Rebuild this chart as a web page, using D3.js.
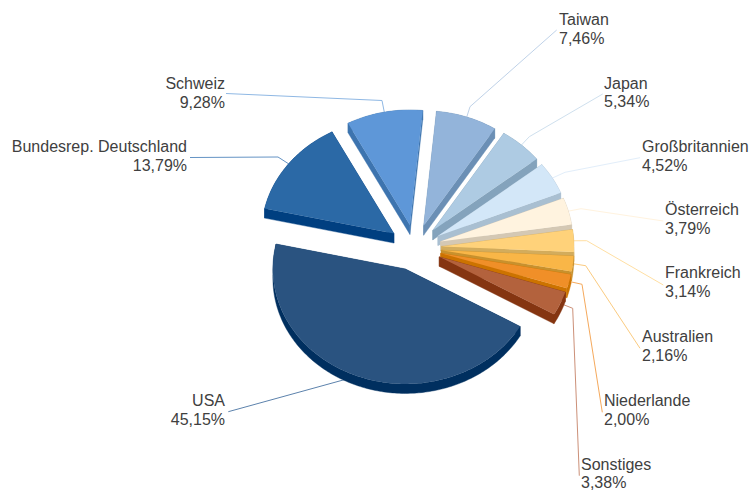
<!DOCTYPE html>
<html><head><meta charset="utf-8">
<script src="https://cdnjs.cloudflare.com/ajax/libs/d3/7.8.5/d3.min.js"></script>
<style>html,body{margin:0;padding:0;background:#fff}svg{display:block}text{font-family:"Liberation Sans",Arial,sans-serif;font-size:16px;fill:#404040}</style>
</head><body><svg id="c" width="752" height="490"></svg>
<script>
const categories=["USA","Bundesrep. Deutschland","Schweiz","Taiwan","Japan","Großbritannien","Österreich","Frankreich","Australien","Niederlande","Sonstiges"];
const shares=[45.15,13.79,9.28,7.46,5.34,4.52,3.79,3.14,2.16,2.00,3.38];
const topColors=["#2A5380","#2B69A6","#5E97D8","#93B4DA","#AECBE3","#D3E7F8","#FFF3DF","#FFD27A","#F9B647","#F08F28","#B3623D"];
const sideColors=["#002F5F","#003F80","#3D74AF","#6B8FB5","#84A3BC","#A9BFD1","#D4C8B4","#D3AC5C","#C8912E","#CC7300","#853511"];
const leaderColors=["#5C82AC","#6493C4","#8FB8E4","#BFD2E8","#CFE0EE","#E2EEFA","#FFF3DF","#FFDFA3","#FBCB80","#F5A95C","#CC9078"];
// label layout: elbow of the leader, leader end, text anchor and first baseline
const elbows=[null,[278,157],[382,100.5],[470,106.7],[529.3,136.7],[565,172.3],[581,208.7],[586.7,240.7],[585.7,265.7],[582,284.3],[572.7,308.3]];
const leaderEnds=[[228.3,411.7],[190,157.5],[226,93.5],[556.7,30],[602.7,94],[640,157.7],[663.3,221],[663.3,285],[640,348.3],[602.3,412.3],[579.3,475.7]];
const labelX=[225,187,225,559,604,642,665,665,642,604,581];
const labelY=[406,152,89,25,88.5,152,215,278,342,406,469.5];
const labelAnchor=["end","end","end","start","start","start","start","start","start","start","start"];

const cx=415,cy=247.5,rx=132.5,ry=115,depth=9.5,explode=0.2,startDeg=120;
const x=d3.scaleLinear().domain([-1,1]).range([cx-rx,cx+rx]);
const y=d3.scaleLinear().domain([-1,1]).range([cy-ry,cy+ry]);
const start=startDeg*Math.PI/180;
const arcs=d3.pie().sort(null).startAngle(start).endAngle(start+2*Math.PI)(shares);
const svg=d3.select("#c");
const line=d3.line();
const mid=a=>(a.startAngle+a.endAngle)/2;

function rim(a){
  const m=mid(a),ox=explode*Math.sin(m),oy=-explode*Math.cos(m);
  const n=Math.max(4,Math.ceil((a.endAngle-a.startAngle)*60));
  return {apex:[x(ox),y(oy)],pts:d3.range(n+1).map(i=>{
    const t=a.startAngle+(a.endAngle-a.startAngle)*i/n;
    return [x(ox+Math.sin(t)),y(oy-Math.cos(t))];
  })};
}
const drop=p=>[p[0],p[1]+depth];
// leaders
const gL=svg.append("g");
arcs.forEach((a,i)=>{
  const m=mid(a),k=1+explode;
  const s=[x(k*Math.sin(m)),y(-k*Math.cos(m))];
  const pts=[s]; if(elbows[i])pts.push(elbows[i]); pts.push(leaderEnds[i]);
  gL.append("path").attr("d",line(pts)).attr("fill","none").attr("stroke",leaderColors[i]).attr("stroke-width",1);
});
// slices back to front
const gS=svg.append("g");
arcs.map((a,i)=>({a,i})).sort((p,q)=>-Math.cos(mid(p.a))+Math.cos(mid(q.a))).forEach(({a,i})=>{
  const {apex,pts}=rim(a);
  const g=gS.append("g").attr("fill",sideColors[i]).attr("stroke",sideColors[i]).attr("stroke-width",0.4);
  const first=pts[0],last=pts[pts.length-1];
  g.append("path").attr("d",line([apex,first,drop(first),drop(apex)])+"Z");
  g.append("path").attr("d",line([apex,last,drop(last),drop(apex)])+"Z");
  g.append("path").attr("d",line(pts.concat(pts.slice().reverse().map(drop)))+"Z");
  gS.append("path").attr("d",line([apex].concat(pts))+"Z").attr("fill",topColors[i]);
});
// labels
const gT=svg.append("g");
categories.forEach((c,i)=>{
  const t=gT.append("text").attr("text-anchor",labelAnchor[i]);
  t.append("tspan").attr("x",labelX[i]).attr("y",labelY[i]).text(c);
  t.append("tspan").attr("x",labelX[i]).attr("y",labelY[i]+18.8).text(shares[i].toFixed(2).replace(".",",")+"%");
});
</script></body></html>
